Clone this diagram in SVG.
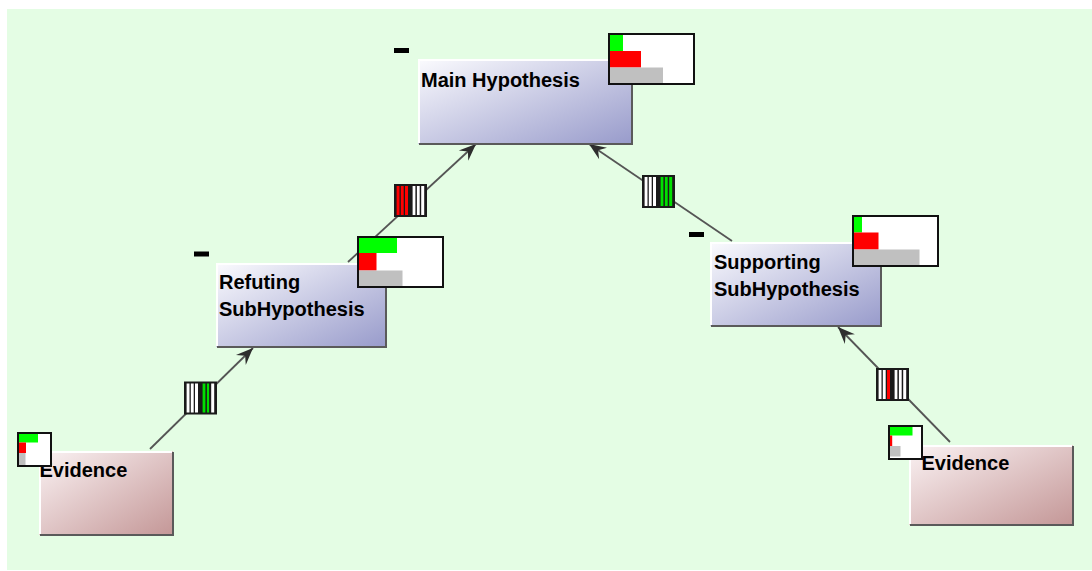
<svg xmlns="http://www.w3.org/2000/svg" width="1092" height="571" viewBox="0 0 1092 571">
  <style>
    .label { font-family: "Liberation Sans", Arial, sans-serif; font-weight: bold; font-size: 20px; fill: #000; }
    .hl { stroke: #ffffff; stroke-width: 2; fill: none; }
    .sh { stroke: #5a5a5a; stroke-width: 2; fill: none; }
    .ind { fill: #ffffff; stroke: #111; stroke-width: 2; }
    .g { fill: #00ff00; }
    .r { fill: #ff0000; }
    .y { fill: #c0c0c0; }
    .toggle { fill: #000; }
    .edge { stroke: #555; stroke-width: 1.8; fill: none; marker-end: url(#arrow); }
    .gframe { fill: #1a1a1a; }
    .sw { fill: #ffffff; }
    .sr { fill: #ff0000; }
    .sg { fill: #00e000; }
  </style>
  <defs>
    <linearGradient id="hypFill" x1="0" y1="0" x2="1" y2="1">
      <stop offset="0" stop-color="#fbfbfe"/>
      <stop offset="1" stop-color="#989bcb"/>
    </linearGradient>
    <linearGradient id="evFill" x1="0" y1="0" x2="1" y2="1">
      <stop offset="0" stop-color="#fbf3f4"/>
      <stop offset="1" stop-color="#c49797"/>
    </linearGradient>
    <marker id="arrow" markerUnits="userSpaceOnUse" markerWidth="22" markerHeight="18" viewBox="-18 -9 20 18" refX="0" refY="0" orient="auto">
      <path d="M0,0 L-17,-7 L-11,0 L-17,7 Z" fill="#2e2e2e"/>
    </marker>
  </defs>

  <!-- canvas -->
  <rect x="7" y="9" width="1085" height="561" fill="#e4fde4"/>

  <!-- connectors with weight glyphs -->
  <g id="connectors">
    <line class="edge" x1="150" y1="449" x2="253" y2="348"/>
    <line class="edge" x1="348" y1="262" x2="476" y2="144"/>
    <line class="edge" x1="732" y1="241" x2="589" y2="144"/>
    <line class="edge" x1="950" y1="442" x2="838" y2="327"/>

    <!-- evidence -> refuting -->
    <g transform="translate(184,381.5)">
      <rect class="gframe" width="33" height="33"/>
      <rect class="sw" x="2.6" y="2" width="2.9" height="29"/>
      <rect class="sw" x="6.8" y="2" width="2.9" height="29"/>
      <rect class="sw" x="11" y="2" width="3" height="29"/>
      <rect class="sg" x="18.6" y="2" width="2.8" height="29"/>
      <rect class="sg" x="22.9" y="2" width="2.2" height="29"/>
      <rect class="sw" x="27.2" y="2" width="3" height="29"/>
    </g>
    <!-- refuting -> main -->
    <g transform="translate(394,184)">
      <rect class="gframe" width="33" height="33"/>
      <rect class="sr" x="2.6" y="2" width="2.9" height="29"/>
      <rect class="sr" x="6.8" y="2" width="2.9" height="29"/>
      <rect class="sr" x="11" y="2" width="3" height="29"/>
      <rect class="sw" x="18.6" y="2" width="2.8" height="29"/>
      <rect class="sw" x="22.9" y="2" width="2.8" height="29"/>
      <rect class="sw" x="27.2" y="2" width="3" height="29"/>
    </g>
    <!-- supporting -> main -->
    <g transform="translate(642,175)">
      <rect class="gframe" width="33" height="33"/>
      <rect class="sw" x="2.6" y="2" width="2.9" height="29"/>
      <rect class="sw" x="6.8" y="2" width="2.9" height="29"/>
      <rect class="sw" x="11" y="2" width="3" height="29"/>
      <rect class="sg" x="18.6" y="2" width="2.8" height="29"/>
      <rect class="sg" x="22.9" y="2" width="2.8" height="29"/>
      <rect class="sg" x="27.2" y="2" width="3" height="29"/>
    </g>
    <!-- evidence -> supporting -->
    <g transform="translate(876,368)">
      <rect class="gframe" width="33" height="33"/>
      <rect class="sw" x="2.6" y="2" width="2.9" height="29"/>
      <rect class="sw" x="6.8" y="2" width="2.9" height="29"/>
      <rect class="sr" x="11" y="2" width="3" height="29"/>
      <rect class="sw" x="18.6" y="2" width="2.8" height="29"/>
      <rect class="sw" x="22.9" y="2" width="2.8" height="29"/>
      <rect class="sw" x="27.2" y="2" width="3" height="29"/>
    </g>
  </g>

  <!-- Main Hypothesis -->
  <g id="main-hypothesis">
    <rect class="toggle" x="394" y="48" width="15" height="5"/>
    <rect x="418" y="59" width="214" height="85" fill="url(#hypFill)"/>
    <polyline class="hl" points="419,143 419,60 631,60"/>
    <polyline class="sh" points="419,144 632,144 632,60"/>
    <text class="label" x="421" y="86.5">Main Hypothesis</text>
    <rect class="ind" x="609" y="34" width="85" height="50"/>
    <rect class="g" x="610" y="35" width="13" height="16"/>
    <rect class="r" x="610" y="51" width="31" height="16.5"/>
    <rect class="y" x="610" y="67.5" width="53" height="15.5"/>
  </g>

  <!-- Refuting SubHypothesis -->
  <g id="refuting-subhypothesis">
    <rect class="toggle" x="194" y="251.5" width="15" height="5"/>
    <rect x="216" y="263" width="170" height="84" fill="url(#hypFill)"/>
    <polyline class="hl" points="217,346 217,264 385,264"/>
    <polyline class="sh" points="217,347 386,347 386,264"/>
    <text class="label" x="219" y="288.5">Refuting</text>
    <text class="label" x="219" y="316">SubHypothesis</text>
    <rect class="ind" x="358" y="237" width="85" height="50"/>
    <rect class="g" x="359" y="238" width="38" height="15"/>
    <rect class="r" x="359" y="253" width="17.5" height="17.5"/>
    <rect class="y" x="359" y="270.5" width="43.5" height="15.5"/>
  </g>

  <!-- Supporting SubHypothesis -->
  <g id="supporting-subhypothesis">
    <rect class="toggle" x="689" y="232" width="15" height="5"/>
    <rect x="710" y="242" width="171" height="84" fill="url(#hypFill)"/>
    <polyline class="hl" points="711,325 711,243 880,243"/>
    <polyline class="sh" points="711,326 881,326 881,243"/>
    <text class="label" x="714" y="268.5">Supporting</text>
    <text class="label" x="714" y="296">SubHypothesis</text>
    <rect class="ind" x="853" y="216" width="85" height="50"/>
    <rect class="g" x="854" y="217" width="8" height="15.5"/>
    <rect class="r" x="854" y="232.5" width="24.5" height="17"/>
    <rect class="y" x="854" y="249.5" width="65.5" height="15.5"/>
  </g>

  <!-- Evidence (left) -->
  <g id="evidence-left">
    <rect x="39" y="451" width="134" height="84" fill="url(#evFill)"/>
    <polyline class="hl" points="40,534 40,452 172,452"/>
    <polyline class="sh" points="40,535 173,535 173,452"/>
    <text class="label" x="39.5" y="476.5">Evidence</text>
    <rect class="ind" x="18" y="433" width="33" height="33"/>
    <rect class="g" x="19" y="434" width="19" height="8.5"/>
    <rect class="r" x="19" y="442.5" width="7" height="10.5"/>
    <rect class="y" x="19" y="453" width="6.5" height="12"/>
  </g>

  <!-- Evidence (right) -->
  <g id="evidence-right">
    <rect x="909" y="445" width="164" height="80" fill="url(#evFill)"/>
    <polyline class="hl" points="910,524 910,446 1072,446"/>
    <polyline class="sh" points="910,525 1073,525 1073,446"/>
    <text class="label" x="921.5" y="470">Evidence</text>
    <rect class="ind" x="889" y="426" width="33" height="33"/>
    <rect class="g" x="890" y="427" width="22.5" height="8.5"/>
    <rect class="r" x="890" y="435.5" width="2.2" height="10.5"/>
    <rect class="y" x="890" y="446" width="10.5" height="10.5"/>
  </g>
</svg>
